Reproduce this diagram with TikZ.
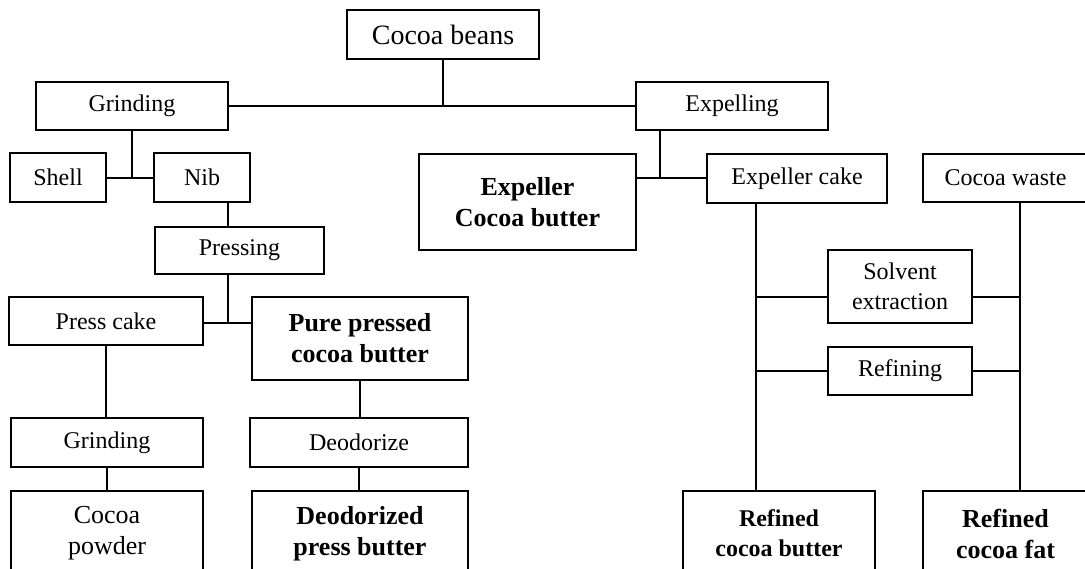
\documentclass[tikz,border=0pt]{standalone}
\usepackage{fontspec}
\setmainfont{Liberation Serif}
\begin{document}
\begin{tikzpicture}[x=1pt,y=-1pt,
  box/.style={draw, line width=1.5pt, inner sep=0pt, align=center,
    font=\fontsize{24}{30}\selectfont},
  bbox/.style={box, font=\fontsize{26}{31}\selectfont\bfseries},
  link/.style={line width=1.6pt}]
\useasboundingbox (0,0) rectangle (1085,569);

% top level
\node[box, minimum width=192, minimum height=49, font=\fontsize{28}{34}\selectfont] (beans) at (443,34.5) {Cocoa beans};
\node[box, minimum width=192, minimum height=48] (grind1) at (132,106) {Grinding};
\node[box, minimum width=192, minimum height=48] (expel) at (732,106) {Expelling};

% second level
\node[box, minimum width=96, minimum height=49] (shell) at (58,177.5) {Shell};
\node[box, minimum width=96, minimum height=49] (nib) at (202,177.5) {Nib};
\node[bbox, minimum width=217, minimum height=96] (expcb) at (527.5,202) {Expeller\\Cocoa butter};
\node[box, minimum width=180, minimum height=49] (expcake) at (797,178.5) {Expeller cake};
\node[box, minimum width=165, minimum height=48] (waste) at (1005.5,178) {Cocoa waste};

% pressing branch
\node[box, minimum width=169, minimum height=47] (pressing) at (239.5,250.5) {Pressing};
\node[box, minimum width=194, minimum height=48] (presscake) at (106,321) {Press cake};
\node[bbox, minimum width=216, minimum height=83] (pure) at (360,338.5) {Pure pressed\\cocoa butter};
\node[box, minimum width=192, minimum height=49] (grind2) at (107,442.5) {Grinding};
\node[box, minimum width=218, minimum height=49] (deodorize) at (359,442.5) {Deodorize};
\node[box, minimum width=192, minimum height=85, font=\fontsize{26}{31}\selectfont] (powder) at (107,533.5) {Cocoa\\powder};
\node[bbox, minimum width=216, minimum height=85] (deodorized) at (360,533.5) {Deodorized\\press butter};

% solvent / refining branch
\node[box, minimum width=144, minimum height=73] (solvent) at (900,286.5) {Solvent\\extraction};
\node[box, minimum width=144, minimum height=48] (refining) at (900,371) {Refining};
\node[bbox, minimum width=192, minimum height=85, font=\fontsize{24}{30}\selectfont\bfseries] (rcb) at (779,533.5) {Refined\\cocoa butter};
\node[bbox, minimum width=165, minimum height=85] (rcf) at (1005.5,533.5) {Refined\\cocoa fat};

% junction points
\coordinate (g1) at (132,178);
\coordinate (e1) at (660,178);
\coordinate (p1) at (228,323);
\coordinate (cL) at (756,0);
\coordinate (cR) at (1020,0);
\coordinate (sY) at (0,297);

% connectors
\draw[link] (beans.south) -- (beans.south |- grind1.east);
\draw[link] (grind1.east) -- (expel.west);
\draw[link] (grind1.south) -- (g1);
\draw[link] (shell.east |- g1) -- (nib.west |- g1);
\draw[link] (expel.south -| e1) -- (e1);
\draw[link] (expcb.east |- e1) -- (expcake.west |- e1);
\draw[link] (nib.south -| p1) -- (pressing.north -| p1);
\draw[link] (pressing.south -| p1) -- (p1);
\draw[link] (presscake.east |- p1) -- (pure.west |- p1);
\draw[link] (presscake.south) -- (presscake.south |- grind2.north);
\draw[link] (grind2.south) -- (grind2.south |- powder.north);
\draw[link] (pure.south) -- (pure.south |- deodorize.north);
\draw[link] (deodorize.south) -- (deodorize.south |- deodorized.north);
\draw[link] (expcake.south -| cL) -- (rcb.north -| cL);
\draw[link] (waste.south -| cR) -- (rcf.north -| cR);
\draw[link] (solvent.west |- sY) -- (cL |- sY);
\draw[link] (solvent.east |- sY) -- (cR |- sY);
\draw[link] (refining.west) -- (cL |- refining.west);
\draw[link] (refining.east) -- (cR |- refining.east);
\end{tikzpicture}
\end{document}
